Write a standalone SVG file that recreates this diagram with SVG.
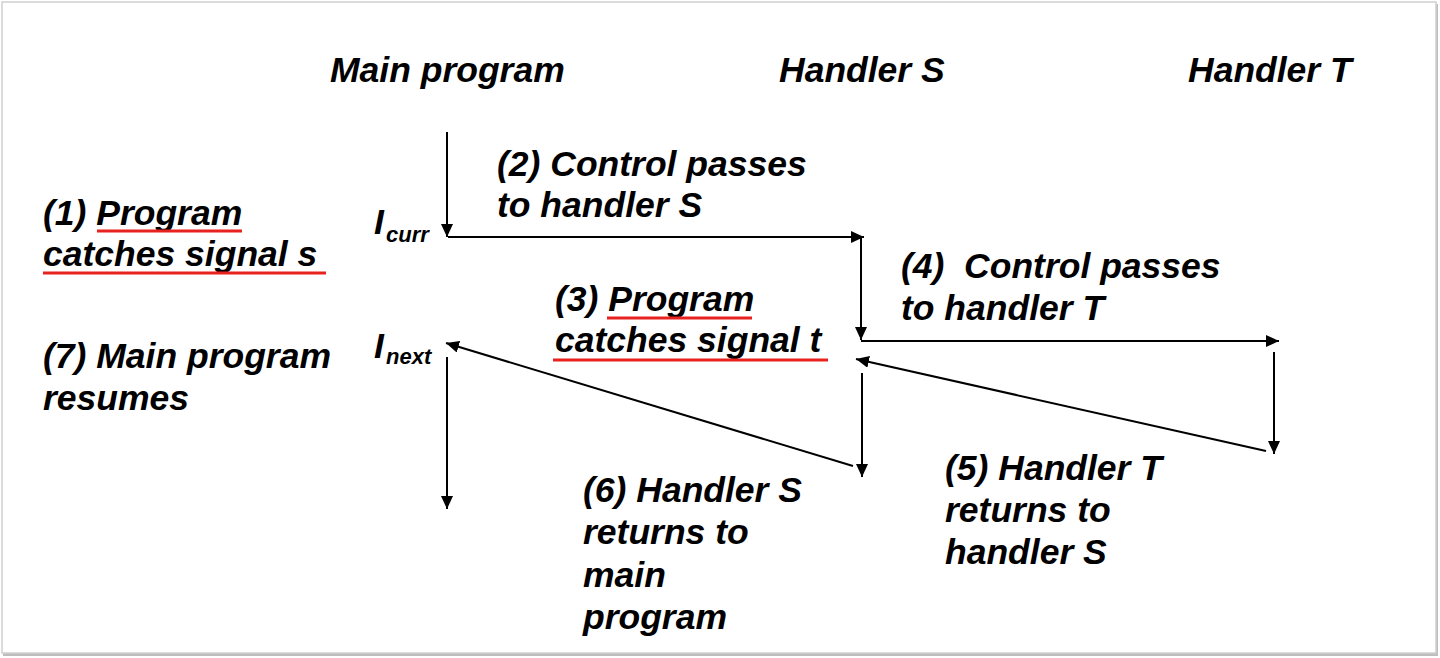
<svg xmlns="http://www.w3.org/2000/svg" width="1440" height="658" viewBox="0 0 1440 658">
<defs>
<style>
.t{font-family:"Liberation Sans",Arial,sans-serif;font-weight:bold;font-style:italic;font-size:35.5px;fill:#000}
.sub{font-family:"Liberation Sans",Arial,sans-serif;font-weight:bold;font-style:italic;font-size:22px;fill:#000}
.c{stroke:#000;stroke-width:2;fill:none;marker-end:url(#ah)}
.ul{stroke:#e8231f;stroke-width:3}
</style>
<marker id="ah" markerUnits="userSpaceOnUse" markerWidth="13" markerHeight="12" refX="13" refY="6" orient="auto">
<path d="M0,0 L13,6 L0,12 z" fill="#000"/>
</marker>
</defs>
<rect x="0" y="0" width="1440" height="658" fill="#ffffff"/>
<rect x="3" y="4" width="1435" height="652" fill="#bdbdbd"/>
<rect x="2" y="2" width="1434" height="651" fill="#ffffff" stroke="#cfcfcf" stroke-width="1.5"/>

<g id="headers">
<text class="t" x="330" y="82">Main program</text>
<text class="t" x="779" y="82">Handler S</text>
<text class="t" x="1188" y="82">Handler T</text>
</g>

<g id="icurr"><text class="t" x="374" y="234">I</text><text class="sub" x="386" y="242">curr</text></g>
<g id="inext"><text class="t" x="374" y="358">I</text><text class="sub" x="386" y="364">next</text></g>

<g id="label1">
<text class="t" x="43" y="225">(1) Program</text>
<text class="t" x="43" y="266">catches signal s</text>
<line class="ul" x1="97" y1="231" x2="242" y2="231"/>
<line class="ul" x1="43" y1="273" x2="326" y2="273"/>
</g>
<g id="label2">
<text class="t" x="497" y="176">(2) Control passes</text>
<text class="t" x="497" y="217">to handler S</text>
</g>
<g id="label3">
<text class="t" x="555" y="311">(3) Program</text>
<text class="t" x="555" y="352">catches signal t</text>
<line class="ul" x1="607" y1="318" x2="752" y2="318"/>
<line class="ul" x1="553" y1="360" x2="828" y2="360"/>
</g>
<g id="label4">
<text class="t" x="901" y="278" xml:space="preserve">(4)  Control passes</text>
<text class="t" x="901" y="320">to handler T</text>
</g>
<g id="label5">
<text class="t" x="945" y="480">(5) Handler T</text>
<text class="t" x="945" y="522">returns to</text>
<text class="t" x="945" y="564">handler S</text>
</g>
<g id="label6">
<text class="t" x="583" y="502">(6) Handler S</text>
<text class="t" x="583" y="544">returns to</text>
<text class="t" x="583" y="587">main</text>
<text class="t" x="583" y="629">program</text>
</g>
<g id="label7">
<text class="t" x="43" y="368">(7) Main program</text>
<text class="t" x="43" y="410">resumes</text>
</g>

<g id="connectors">
<path class="c" d="M447,132 L447,237"/>
<path class="c" d="M448,237 L864,237"/>
<path class="c" d="M861,237 L861,340"/>
<path class="c" d="M861,341 L1279,341"/>
<path class="c" d="M1274,352 L1274,454"/>
<path class="c" d="M1266,451 L856,359"/>
<path class="c" d="M862,373 L862,477"/>
<path class="c" d="M853,466 L446,343"/>
<path class="c" d="M447,357 L447,509"/>
</g>
</svg>
